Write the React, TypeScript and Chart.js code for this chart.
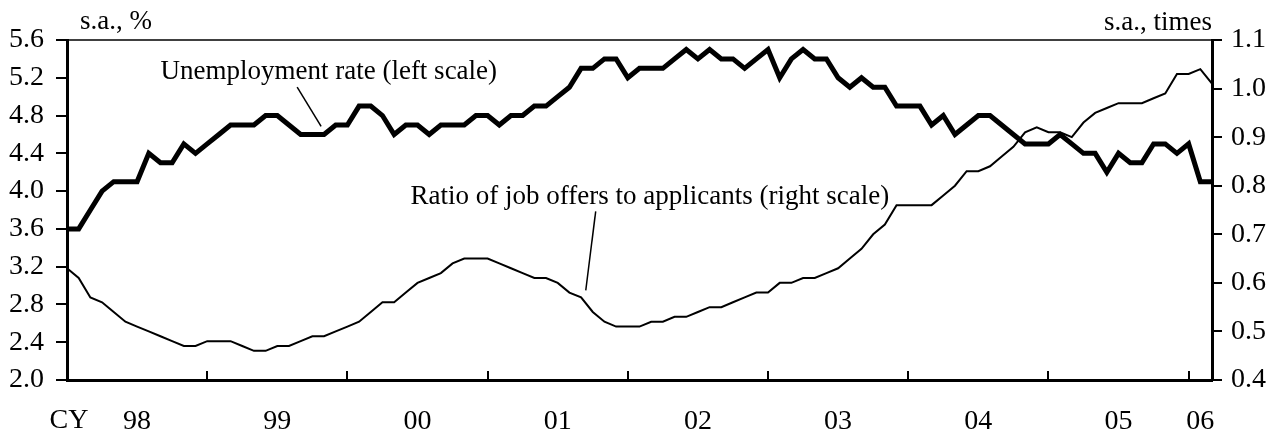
import React, { useEffect, useRef } from "react";
import { Chart, registerables } from "chart.js";

Chart.register(...registerables);

// Monthly categories, Jan 1998 .. Mar 2006
const MONTHS: string[] = [];
for (let y = 1998; y <= 2006; y++) {
  for (let m = 1; m <= 12; m++) {
    if (y === 2006 && m > 3) break;
    MONTHS.push(`${y}-${String(m).padStart(2, "0")}`);
  }
}

const YEAR_LABELS = ["98", "99", "00", "01", "02", "03", "04", "05", "06"];
const LEFT_TICKS = [2.0, 2.4, 2.8, 3.2, 3.6, 4.0, 4.4, 4.8, 5.2, 5.6];
const RIGHT_TICKS = [0.4, 0.5, 0.6, 0.7, 0.8, 0.9, 1.0, 1.1];

// Unemployment rate, s.a., % (left scale)
const UNEMPLOYMENT = [
  3.6, 3.6, 3.8, 4.0, 4.1, 4.1, 4.1, 4.4, 4.3, 4.3, 4.5, 4.4,
  4.5, 4.6, 4.7, 4.7, 4.7, 4.8, 4.8, 4.7, 4.6, 4.6, 4.6, 4.7,
  4.7, 4.9, 4.9, 4.8, 4.6, 4.7, 4.7, 4.6, 4.7, 4.7, 4.7, 4.8,
  4.8, 4.7, 4.8, 4.8, 4.9, 4.9, 5.0, 5.1, 5.3, 5.3, 5.4, 5.4,
  5.2, 5.3, 5.3, 5.3, 5.4, 5.5, 5.4, 5.5, 5.4, 5.4, 5.3, 5.4,
  5.5, 5.2, 5.4, 5.5, 5.4, 5.4, 5.2, 5.1, 5.2, 5.1, 5.1, 4.9,
  4.9, 4.9, 4.7, 4.8, 4.6, 4.7, 4.8, 4.8, 4.7, 4.6, 4.5, 4.5,
  4.5, 4.6, 4.5, 4.4, 4.4, 4.2, 4.4, 4.3, 4.3, 4.5, 4.5, 4.4,
  4.5, 4.1, 4.1,
];

// Ratio of job offers to applicants, s.a., times (right scale)
const JOB_RATIO = [
  0.63, 0.61, 0.57, 0.56, 0.54, 0.52, 0.51, 0.50, 0.49, 0.48, 0.47, 0.47,
  0.48, 0.48, 0.48, 0.47, 0.46, 0.46, 0.47, 0.47, 0.48, 0.49, 0.49, 0.50,
  0.51, 0.52, 0.54, 0.56, 0.56, 0.58, 0.60, 0.61, 0.62, 0.64, 0.65, 0.65,
  0.65, 0.64, 0.63, 0.62, 0.61, 0.61, 0.60, 0.58, 0.57, 0.54, 0.52, 0.51,
  0.51, 0.51, 0.52, 0.52, 0.53, 0.53, 0.54, 0.55, 0.55, 0.56, 0.57, 0.58,
  0.58, 0.60, 0.60, 0.61, 0.61, 0.62, 0.63, 0.65, 0.67, 0.70, 0.72, 0.76,
  0.76, 0.76, 0.76, 0.78, 0.80, 0.83, 0.83, 0.84, 0.86, 0.88, 0.91, 0.92,
  0.91, 0.91, 0.90, 0.93, 0.95, 0.96, 0.97, 0.97, 0.97, 0.98, 0.99, 1.03,
  1.03, 1.04, 1.01,
];

const FONT_FAMILY = "'Liberation Serif', 'Times New Roman', serif";
const TICK_SIZE = 28;
const TEXT_SIZE = 27;
const X_PAD = 17;

// year-label positions (middle of each year's span) and year boundaries
const lastIdx = MONTHS.length - 1;
const YEAR_STARTS = YEAR_LABELS.map((_, k) => MONTHS.indexOf(`${1998 + k}-01`));
const YEAR_CENTERS = YEAR_STARTS.map((s) => (s + Math.min(s + 12, lastIdx)) / 2);
const YEAR_BOUNDARIES = YEAR_STARTS.filter((s) => s > 0);

const decorPlugin = {
  id: "decor",
  afterDraw(chart: any) {
    const ctx = chart.ctx as CanvasRenderingContext2D;
    const { left, right, top, bottom } = chart.chartArea;
    const xs = chart.scales.x;
    const yl = chart.scales.yL;
    const yr = chart.scales.yR;
    ctx.save();
    ctx.strokeStyle = "#000";
    ctx.fillStyle = "#000";

    // top frame line
    ctx.lineWidth = 1.5;
    ctx.beginPath();
    ctx.moveTo(left, top);
    ctx.lineTo(right, top);
    ctx.stroke();

    // inward year-boundary ticks
    ctx.lineWidth = 2;
    YEAR_BOUNDARIES.forEach((b) => {
      const px = Math.round(xs.getPixelForValue(b));
      ctx.beginPath();
      ctx.moveTo(px, bottom);
      ctx.lineTo(px, bottom - 9);
      ctx.stroke();
    });

    // unit titles
    ctx.font = `${TEXT_SIZE}px ${FONT_FAMILY}`;
    ctx.textBaseline = "alphabetic";
    ctx.textAlign = "left";
    ctx.fillText("s.a., %", left + 13, top - 11);
    ctx.textAlign = "right";
    ctx.fillText("s.a., times", right, top - 10);

    // "CY" on the same line as the year labels
    ctx.font = `${TICK_SIZE}px ${FONT_FAMILY}`;
    ctx.textAlign = "center";
    ctx.textBaseline = "middle";
    ctx.fillText("CY", left + 2, bottom + X_PAD + TICK_SIZE * 0.6 + 7);

    // annotations
    ctx.font = `${TEXT_SIZE}px ${FONT_FAMILY}`;
    ctx.textBaseline = "alphabetic";
    ctx.textAlign = "left";
    ctx.fillText("Unemployment rate (left scale)", xs.getPixelForValue(8.0), yl.getPixelForValue(5.187));
    ctx.fillText(
      "Ratio of job offers to applicants (right scale)",
      xs.getPixelForValue(29.4),
      yr.getPixelForValue(0.762)
    );

    // leader lines
    ctx.lineWidth = 1.5;
    ctx.beginPath();
    ctx.moveTo(xs.getPixelForValue(19.7), yl.getPixelForValue(5.1));
    ctx.lineTo(xs.getPixelForValue(21.75), yl.getPixelForValue(4.6) - 8);
    ctx.stroke();
    ctx.beginPath();
    ctx.moveTo(xs.getPixelForValue(45.25), yr.getPixelForValue(0.747));
    ctx.lineTo(xs.getPixelForValue(44.4), yr.getPixelForValue(0.57) - 7);
    ctx.stroke();

    ctx.restore();
  },
};

export default function App() {
  const canvasRef = useRef<HTMLCanvasElement | null>(null);

  useEffect(() => {
    document.body.style.margin = "0";
    const canvas = canvasRef.current;
    if (!canvas) return;

    const font = { family: FONT_FAMILY, size: TICK_SIZE };

    const chart = new Chart(canvas, {
      type: "line",
      data: {
        datasets: [
          {
            label: "Unemployment rate (left scale)",
            data: UNEMPLOYMENT.map((v, i) => ({ x: i, y: v })),
            yAxisID: "yL",
            borderColor: "#000",
            borderWidth: 5,
            borderJoinStyle: "miter",
            pointRadius: 0,
            tension: 0,
            fill: false,
          },
          {
            label: "Ratio of job offers to applicants (right scale)",
            data: JOB_RATIO.map((v, i) => ({ x: i, y: v })),
            yAxisID: "yR",
            borderColor: "#000",
            borderWidth: 2,
            borderJoinStyle: "miter",
            pointRadius: 0,
            tension: 0,
            fill: false,
          },
        ],
      },
      options: {
        animation: false,
        responsive: true,
        maintainAspectRatio: false,
        layout: { padding: { top: 40, left: 0, right: 0, bottom: 0 } },
        plugins: {
          legend: { display: false },
          tooltip: { enabled: false },
        },
        scales: {
          x: {
            type: "linear",
            min: 0,
            max: lastIdx,
            grid: { display: false },
            border: { display: true, color: "#000", width: 3 },
            afterBuildTicks: (scale: any) => {
              scale.ticks = YEAR_CENTERS.map((v) => ({ value: v }));
            },
            afterFit: (scale: any) => {
              scale.height = 57;
            },
            ticks: {
              autoSkip: false,
              maxRotation: 0,
              minRotation: 0,
              padding: X_PAD,
              color: "#000",
              font,
              callback: (_v: any, index: number) => YEAR_LABELS[index],
            },
          },
          yL: {
            type: "linear",
            position: "left",
            min: 2.0,
            max: 5.6,
            afterBuildTicks: (scale: any) => {
              scale.ticks = LEFT_TICKS.map((v) => ({ value: v }));
            },
            afterFit: (scale: any) => {
              scale.width = 67;
            },
            grid: {
              display: true,
              drawOnChartArea: false,
              drawTicks: true,
              tickLength: 11,
              color: "#000",
              lineWidth: 2,
            },
            border: { display: true, color: "#000", width: 3 },
            ticks: {
              padding: 12,
              color: "#000",
              font,
              callback: (v: any) => Number(v).toFixed(1),
            },
          },
          yR: {
            type: "linear",
            position: "right",
            min: 0.4,
            max: 1.1,
            afterBuildTicks: (scale: any) => {
              scale.ticks = RIGHT_TICKS.map((v) => ({ value: v }));
            },
            afterFit: (scale: any) => {
              scale.width = 69;
            },
            grid: {
              display: true,
              drawOnChartArea: false,
              drawTicks: true,
              tickLength: 10,
              color: "#000",
              lineWidth: 2,
            },
            border: { display: true, color: "#000", width: 3 },
            ticks: {
              padding: 9,
              color: "#000",
              font,
              callback: (v: any) => Number(v).toFixed(1),
            },
          },
        },
      },
      plugins: [decorPlugin],
    });

    return () => chart.destroy();
  }, []);

  return (
    <div style={{ position: "relative", width: 1281, height: 437, background: "#fff" }}>
      <canvas ref={canvasRef} />
    </div>
  );
}
